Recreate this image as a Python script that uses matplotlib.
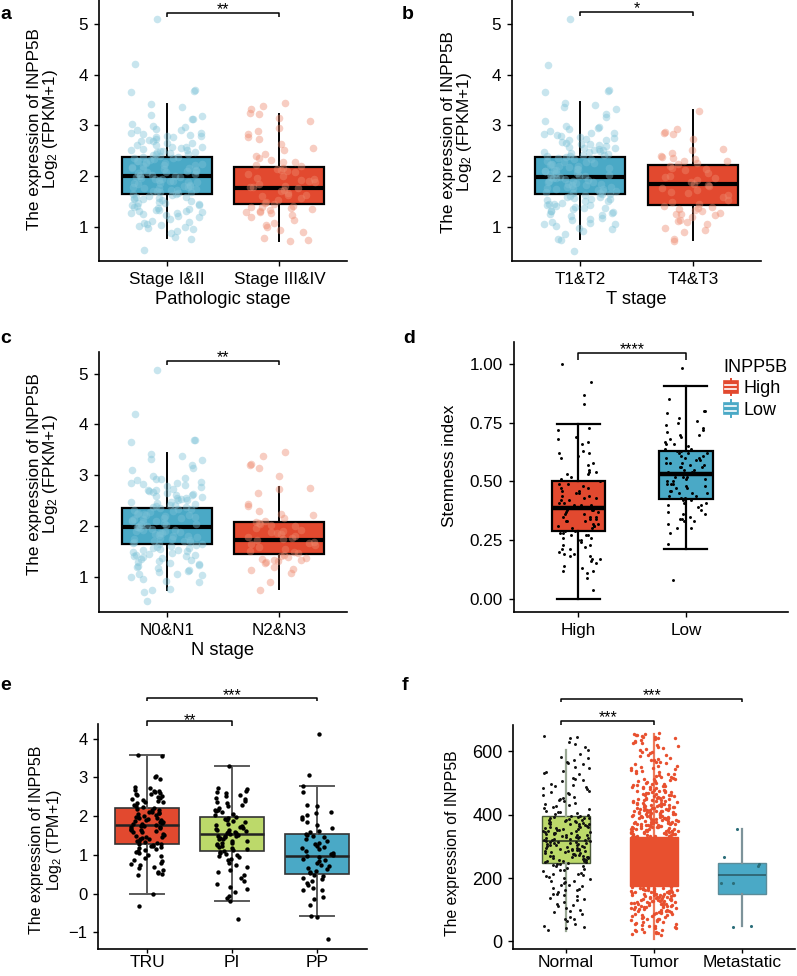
import numpy as np
import matplotlib
matplotlib.use("Agg")
import matplotlib.pyplot as plt
import matplotlib.transforms as mtransforms
from matplotlib.patches import Rectangle, Patch
from matplotlib.lines import Line2D
from matplotlib.legend_handler import HandlerBase

plt.rcParams["font.family"] = ["Liberation Sans", "DejaVu Sans"]
plt.rcParams["mathtext.default"] = "regular"

W, H = 797, 976

# ---- a: pathologic stage (FPKM) ----
a_labels = ["Stage I&II", "Stage III&IV"]
a_stage12 = [5.10, 4.21, 3.71, 3.69, 3.66, 3.43, 3.36, 3.21, 3.18, 3.13, 3.12, 3.03, 2.98, 2.97, 2.93,
             2.90, 2.86, 2.85, 2.84, 2.80, 2.79, 2.77, 2.73, 2.72, 2.70, 2.66, 2.65, 2.61, 2.58, 2.57,
             2.55, 2.52, 2.51, 2.48, 2.47, 2.46, 2.43, 2.41, 2.40, 2.38, 2.36, 2.35, 2.32, 2.30, 2.29,
             2.27, 2.25, 2.22, 2.21, 2.20, 2.17, 2.15, 2.14, 2.13, 2.10, 2.08, 2.07, 2.05, 2.03, 2.02,
             2.00, 1.99, 1.98, 1.95, 1.94, 1.93, 1.90, 1.88, 1.87, 1.86, 1.83, 1.81, 1.80, 1.78, 1.76,
             1.75, 1.73, 1.71, 1.70, 1.68, 1.66, 1.64, 1.63, 1.60, 1.58, 1.57, 1.55, 1.52, 1.50, 1.48,
             1.47, 1.44, 1.42, 1.40, 1.37, 1.35, 1.33, 1.30, 1.29, 1.27, 1.25, 1.22, 1.18, 1.15, 1.12,
             1.08, 1.05, 1.03, 1.00, 0.97, 0.95, 0.92, 0.88, 0.80, 0.76, 0.53,
             2.91, 2.78, 2.69, 2.62, 2.54, 2.49, 2.44, 2.33, 2.24, 2.16, 2.09, 2.04, 1.96, 1.91, 1.84,
             1.79, 1.72, 1.65, 1.59, 1.54, 1.46, 1.38, 1.31, 1.26, 1.20, 1.10, 1.02, 2.58, 2.37, 2.12,
             1.89, 1.69, 1.43, 1.33, 2.82, 2.50, 2.26, 2.01, 1.77, 1.56]
a_stage34 = [3.44, 3.38, 3.33, 3.24, 3.22, 3.15, 3.08, 2.95, 2.89, 2.83, 2.77, 2.74, 2.64, 2.55, 2.52,
             2.44, 2.40, 2.36, 2.31, 2.28, 2.22, 2.20, 2.16, 2.14, 2.11, 2.07, 2.04, 2.00, 1.97, 1.94,
             1.91, 1.88, 1.85, 1.81, 1.78, 1.76, 1.73, 1.70, 1.67, 1.63, 1.60, 1.56, 1.52, 1.49, 1.46,
             1.44, 1.41, 1.38, 1.36, 1.33, 1.31, 1.28, 1.26, 1.23, 1.18, 1.13, 1.08, 1.03, 0.99, 0.94,
             0.90, 0.77, 0.73, 0.71, 2.27, 2.09, 1.93, 1.79, 1.62, 1.39, 1.29, 1.35]
# box stats: q1, median, q3, lower whisker, upper whisker
a_box12 = [1.65, 2.01, 2.38, 0.77, 3.42]
a_box34 = [1.45, 1.76, 2.17, 0.72, 3.22]

# ---- b: T stage ----
b_labels = ["T1&T2", "T4&T3"]
b_t12 = [5.10, 4.20, 3.70, 3.68, 3.67, 3.44, 3.41, 3.36, 3.33, 3.22, 3.16, 3.09, 2.99, 2.96, 2.92,
         2.89, 2.85, 2.83, 2.81, 2.78, 2.75, 2.74, 2.71, 2.68, 2.66, 2.63, 2.60, 2.58, 2.56, 2.53,
         2.51, 2.49, 2.47, 2.45, 2.43, 2.41, 2.39, 2.37, 2.34, 2.33, 2.30, 2.28, 2.27, 2.24, 2.22,
         2.20, 2.19, 2.16, 2.14, 2.12, 2.10, 2.09, 2.06, 2.05, 2.03, 2.01, 1.99, 1.98, 1.96, 1.94,
         1.92, 1.91, 1.89, 1.87, 1.85, 1.83, 1.82, 1.79, 1.77, 1.76, 1.74, 1.72, 1.70, 1.68, 1.66,
         1.65, 1.63, 1.61, 1.59, 1.57, 1.54, 1.52, 1.50, 1.47, 1.45, 1.43, 1.41, 1.38, 1.36, 1.34,
         1.31, 1.29, 1.26, 1.24, 1.20, 1.17, 1.13, 1.10, 1.06, 1.05, 1.02, 0.98, 0.95, 0.91, 0.86,
         0.75, 0.74, 0.52,
         2.94, 2.80, 2.72, 2.64, 2.55, 2.48, 2.42, 2.35, 2.25, 2.18, 2.11, 2.04, 1.97, 1.90, 1.84,
         1.78, 1.71, 1.64, 1.58, 1.51, 1.44, 1.37, 1.30, 1.22, 1.15, 1.08, 2.61, 2.39, 2.13, 1.88,
         1.67, 1.42, 2.86, 2.52, 2.23, 2.00, 1.75, 1.55]
b_t34 = [3.29, 2.93, 2.88, 2.86, 2.84, 2.74, 2.53, 2.51, 2.46, 2.40, 2.38, 2.36, 2.33, 2.29, 2.25,
         2.23, 2.20, 2.16, 2.11, 2.06, 2.01, 1.96, 1.93, 1.89, 1.85, 1.81, 1.77, 1.73, 1.69, 1.63,
         1.59, 1.53, 1.48, 1.44, 1.41, 1.38, 1.36, 1.33, 1.30, 1.27, 1.25, 1.22, 1.19, 1.14, 1.12,
         1.09, 1.05, 0.97, 0.93, 0.90, 0.75, 0.72, 2.30, 2.13, 1.98, 1.83, 1.66, 1.34, 1.24]
b_box12 = [1.65, 1.98, 2.38, 0.76, 3.46]
b_box34 = [1.43, 1.84, 2.22, 0.74, 3.30]

# ---- c: N stage ----
c_labels = ["N0&N1", "N2&N3"]
c_n01 = [5.08, 4.21, 3.70, 3.69, 3.66, 3.42, 3.38, 3.31, 3.29, 3.20, 3.15, 3.10, 2.98, 2.95, 2.93,
         2.90, 2.87, 2.84, 2.82, 2.79, 2.76, 2.73, 2.71, 2.69, 2.66, 2.64, 2.61, 2.59, 2.57, 2.55,
         2.52, 2.50, 2.48, 2.46, 2.44, 2.42, 2.40, 2.37, 2.35, 2.33, 2.31, 2.29, 2.27, 2.25, 2.23,
         2.21, 2.19, 2.17, 2.15, 2.13, 2.11, 2.09, 2.07, 2.05, 2.03, 2.01, 2.00, 1.98, 1.96, 1.94,
         1.92, 1.90, 1.88, 1.86, 1.84, 1.82, 1.80, 1.78, 1.76, 1.74, 1.72, 1.70, 1.68, 1.66, 1.65,
         1.63, 1.61, 1.58, 1.56, 1.54, 1.52, 1.49, 1.47, 1.45, 1.42, 1.40, 1.38, 1.36, 1.33, 1.30,
         1.28, 1.25, 1.22, 1.19, 1.16, 1.12, 1.09, 1.05, 1.03, 1.00, 0.96, 0.92, 0.90, 0.76, 0.74,
         0.70, 0.52,
         2.92, 2.81, 2.70, 2.62, 2.54, 2.47, 2.41, 2.34, 2.24, 2.16, 2.10, 2.04, 1.97, 1.91, 1.85,
         1.79, 1.71, 1.64, 1.57, 1.50, 1.43, 1.35, 1.27, 1.20, 1.11, 1.04, 2.60, 2.38, 2.14, 1.89,
         1.68, 1.41, 2.85, 2.51, 2.22, 1.99, 1.75, 1.53]
c_n23 = [3.45, 3.38, 3.22, 3.21, 3.15, 2.98, 2.74, 2.73, 2.64, 2.44, 2.40, 2.29, 2.24, 2.21, 2.16,
         2.10, 2.08, 2.05, 2.02, 1.99, 1.96, 1.92, 1.89, 1.86, 1.83, 1.80, 1.77, 1.74, 1.72, 1.69,
         1.66, 1.62, 1.58, 1.54, 1.50, 1.46, 1.43, 1.41, 1.38, 1.36, 1.34, 1.32, 1.30, 1.28, 1.26,
         1.18, 1.15, 1.13, 1.06, 0.90, 0.73, 2.03, 1.88, 1.76, 1.64, 1.48, 1.33]
c_box01 = [1.64, 1.98, 2.36, 0.74, 3.43]
c_box23 = [1.44, 1.72, 2.07, 0.75, 2.76]

# ---- d: stemness index ----
d_labels = ["High", "Low"]
d_high = [1.00, 0.925, 0.87, 0.83, 0.73, 0.72, 0.69, 0.68, 0.67, 0.66, 0.63, 0.62, 0.62, 0.61, 0.60,
          0.58, 0.57, 0.55, 0.54, 0.53, 0.53, 0.52, 0.51, 0.50, 0.49, 0.49, 0.48, 0.47, 0.47, 0.46,
          0.45, 0.45, 0.44, 0.44, 0.43, 0.42, 0.42, 0.41, 0.41, 0.40, 0.40, 0.39, 0.39, 0.38, 0.38,
          0.37, 0.37, 0.36, 0.36, 0.35, 0.35, 0.34, 0.34, 0.33, 0.33, 0.33, 0.32, 0.32, 0.31, 0.31,
          0.30, 0.30, 0.29, 0.29, 0.28, 0.28, 0.27, 0.27, 0.26, 0.26, 0.25, 0.25, 0.24, 0.23, 0.23,
          0.22, 0.21, 0.21, 0.20, 0.19, 0.19, 0.18, 0.18, 0.17, 0.17, 0.16, 0.15, 0.14, 0.13, 0.12,
          0.12, 0.11, 0.09, 0.035, 0.46, 0.40, 0.35, 0.31, 0.27, 0.54, 0.43, 0.38]
d_low = [0.985, 0.85, 0.80, 0.80, 0.79, 0.77, 0.76, 0.75, 0.74, 0.73, 0.72, 0.71, 0.70, 0.70, 0.69,
         0.68, 0.67, 0.66, 0.66, 0.65, 0.64, 0.64, 0.63, 0.63, 0.62, 0.62, 0.61, 0.61, 0.60, 0.60,
         0.59, 0.59, 0.58, 0.58, 0.57, 0.57, 0.56, 0.56, 0.55, 0.55, 0.54, 0.54, 0.53, 0.53, 0.53,
         0.52, 0.52, 0.51, 0.51, 0.50, 0.50, 0.49, 0.49, 0.48, 0.48, 0.47, 0.47, 0.46, 0.46, 0.45,
         0.45, 0.44, 0.44, 0.43, 0.43, 0.42, 0.42, 0.41, 0.41, 0.40, 0.40, 0.39, 0.38, 0.37, 0.36,
         0.36, 0.35, 0.34, 0.34, 0.33, 0.33, 0.32, 0.30, 0.30, 0.28, 0.235, 0.08, 0.60, 0.56, 0.52,
         0.49, 0.45, 0.62, 0.58]
d_box_high = [0.29, 0.388, 0.502, 0.0, 0.744]
d_box_low = [0.425, 0.531, 0.632, 0.212, 0.909]

# ---- e: TPM by subtype ----
e_labels = ["TRU", "PI", "PP"]
e_tru = [3.58, 3.56, 3.05, 3.01, 2.97, 2.75, 2.72, 2.68, 2.66, 2.64, 2.62, 2.60, 2.58, 2.56, 2.55,
         2.52, 2.50, 2.48, 2.45, 2.42, 2.40, 2.37, 2.33, 2.30, 2.27, 2.24, 2.21, 2.19, 2.17, 2.15,
         2.12, 2.10, 2.08, 2.05, 2.03, 2.01, 1.99, 1.97, 1.95, 1.93, 1.91, 1.89, 1.87, 1.85, 1.83,
         1.81, 1.79, 1.77, 1.75, 1.73, 1.71, 1.69, 1.67, 1.65, 1.62, 1.60, 1.58, 1.55, 1.52, 1.50,
         1.47, 1.45, 1.42, 1.40, 1.37, 1.35, 1.33, 1.31, 1.29, 1.28, 1.26, 1.24, 1.22, 1.20, 1.17,
         1.15, 1.12, 1.10, 1.07, 1.04, 1.00, 0.96, 0.92, 0.88, 0.84, 0.80, 0.76, 0.73, 0.68, 0.65,
         0.60, 0.57, 0.53, 0.50, 0.48, 0.00, -0.32, 2.36, 2.09, 1.86, 1.64, 1.43, 1.96, 1.74]
e_pi = [3.29, 2.73, 2.70, 2.65, 2.63, 2.60, 2.55, 2.52, 2.48, 2.45, 2.40, 2.37, 2.33, 2.30, 2.25,
        2.20, 2.17, 2.14, 2.10, 2.05, 2.02, 1.99, 1.96, 1.93, 1.90, 1.87, 1.84, 1.81, 1.78, 1.75,
        1.72, 1.70, 1.67, 1.65, 1.62, 1.60, 1.58, 1.56, 1.54, 1.52, 1.50, 1.48, 1.46, 1.44, 1.42,
        1.40, 1.37, 1.35, 1.32, 1.30, 1.27, 1.25, 1.22, 1.19, 1.16, 1.13, 1.11, 1.08, 1.05, 1.02,
        1.00, 0.97, 0.94, 0.90, 0.86, 0.80, 0.75, 0.68, 0.62, 0.55, 0.47, 0.40, 0.33, 0.25, 0.18,
        0.12, 0.05, -0.05, -0.12, -0.18, -0.65, 1.63, 1.57, 1.49, 1.21, 2.15]
e_pp = [4.13, 3.06, 2.77, 2.62, 2.30, 2.25, 2.12, 2.08, 2.02, 1.98, 1.93, 1.85, 1.78, 1.70, 1.62,
        1.58, 1.55, 1.52, 1.48, 1.45, 1.40, 1.36, 1.32, 1.28, 1.24, 1.20, 1.17, 1.14, 1.10, 1.06,
        1.03, 1.00, 0.97, 0.94, 0.90, 0.87, 0.83, 0.79, 0.75, 0.71, 0.67, 0.63, 0.59, 0.55, 0.52,
        0.49, 0.45, 0.41, 0.37, 0.32, 0.28, 0.22, 0.15, 0.10, 0.10, -0.10, -0.15, -0.30, -0.59,
        -0.60, -1.17]
e_box = [[1.27, 1.78, 2.21, 0.0, 3.57],
         [1.10, 1.53, 1.98, -0.18, 3.29],
         [0.505, 0.96, 1.53, -0.59, 2.78]]

# ---- f: normal / tumor / metastatic ----
f_labels = ["Normal", "Tumor", "Metastatic"]
f_normal = [649, 646, 642, 630, 623, 603, 583, 578, 571, 566, 562, 551, 547, 539, 531, 528, 517, 511,
            508, 497, 494, 489, 483, 480, 476, 470, 468, 461, 457, 452, 448, 443, 436, 433, 430, 424,
            421, 417, 412, 409, 404, 401, 398, 396, 394, 391, 390, 387, 384, 383, 380, 377, 375, 373,
            371, 369, 366, 364, 361, 360, 357, 355, 352, 350, 348, 346, 343, 342, 339, 337, 335, 333,
            331, 328, 327, 324, 322, 320, 318, 317, 315, 313, 311, 309, 306, 305, 302, 300, 298, 296,
            293, 291, 289, 287, 285, 282, 280, 278, 276, 273, 271, 269, 267, 264, 262, 260, 257, 255,
            253, 250, 247, 244, 240, 237, 233, 228, 224, 221, 217, 213, 209, 205, 201, 196, 192, 188,
            183, 179, 175, 170, 165, 161, 156, 151, 147, 142, 136, 130, 124, 119, 112, 106, 99, 93,
            86, 78, 70, 63, 56, 49, 42, 35,
            612, 590, 559, 535, 505, 486, 465, 445, 427, 408, 395, 389, 382, 376, 370, 365, 358, 353,
            347, 341, 336, 330, 325, 319, 314, 310, 304, 299, 295, 290, 286, 281, 275, 270, 265, 259,
            254, 251, 245, 238, 226, 214, 203, 190, 177, 163, 150, 133, 115, 96, 72, 45, 392, 371,
            356, 338, 321, 303, 284, 266, 379, 362, 344, 326, 308, 292, 274, 258]
f_tumor = [657, 655, 652, 650, 648, 645, 643, 639, 636, 633, 629, 625, 621, 617, 612, 608, 603, 598,
           594, 589, 585, 580, 576, 571, 567, 563, 559, 555, 551, 548, 544, 541, 537, 534, 531, 527,
           524, 521, 518, 515, 512, 509, 507, 504, 501, 498, 496, 493, 491, 488, 486, 483, 481, 479,
           476, 474, 472, 469, 467, 465, 463, 461, 459, 457, 455, 453, 451, 449, 447, 445, 443, 441,
           439, 437, 436, 434, 432, 430, 428, 427, 425, 423, 421, 420, 418, 416, 415, 413, 411, 410,
           408, 407, 405, 403, 402, 400, 399, 397, 396, 394, 393, 391, 390, 388, 387, 385, 384, 382,
           381, 380, 378, 377, 375, 374, 373, 371, 370, 368, 367, 366, 364, 363, 362, 360, 359, 358,
           356, 355, 354, 352, 351, 350, 348, 347, 346, 344, 343, 342, 341, 339, 338, 337, 335, 334,
           333, 332, 330,
           654, 646, 641, 627, 611, 597, 588, 574, 565, 553, 546, 539, 529, 520, 514, 506, 499, 494,
           489, 484, 478, 475, 470, 466, 462, 458, 454, 450, 446, 442, 438, 435, 431, 429, 426, 422,
           419, 417, 414, 412, 409, 406, 404, 401, 398, 395, 392, 389, 386, 383, 381, 379, 376, 372,
           369, 365, 361, 357, 353, 349, 345, 340, 336, 331, 512, 486, 471, 452, 444, 433, 424, 414,
           402, 392, 383, 374, 365, 356, 347, 338, 397, 376, 361, 349, 339, 333, 420, 409, 388, 371,
           173, 172, 171, 169, 168, 167, 165, 164, 163, 161, 160, 159, 157, 156, 155, 153, 152, 151,
           149, 148, 146, 145, 144, 142, 141, 139, 138, 136, 135, 133, 132, 130, 129, 127, 126, 124,
           122, 121, 119, 117, 116, 114, 112, 110, 109, 107, 105, 103, 101, 99, 97, 95, 93, 91, 89,
           87, 84, 82, 80, 77, 75, 72, 70, 67, 64, 61, 58, 55, 52, 49, 46, 43, 40, 36, 33, 30, 27,
           24, 21,
           170, 166, 162, 158, 154, 150, 147, 143, 140, 137, 134, 131, 128, 125, 123, 120, 118, 115,
           111, 108, 104, 100, 96, 92, 88, 85, 81, 76, 71, 66, 60, 54, 48, 41, 35, 29, 25, 170, 162,
           155, 147, 139, 131, 122, 113, 103, 94]
f_metastatic = [356, 265, 243, 239, 185, 183, 50, 47]
f_box = [[249, 316, 397, 34, 603],
         [174, 250, 328, 8, 655],
         [150, 210, 248, 48, 354]]

BLUE = "#4AA9C6"
RED = "#E2492F"
LIGHT_BLUE = "#7EC3D8"
LIGHT_RED = "#EE8A6E"
GREEN = "#BCD96A"
TUMOR = "#E8502F"


def px_axes(fig, l, r, t, b):
    return fig.add_axes([l / W, 1 - b / H, (r - l) / W, (b - t) / H])


def jitter(n, width, phase=0.37):
    # deterministic spread of points across the box width
    k = np.arange(n)
    u = (k * 0.6180339887 + k * k * 0.0731 + phase) % 1.0
    return (u - 0.5) * 2 * width


def to_stats(rows):
    return [dict(q1=r[0], med=r[1], q3=r[2], whislo=r[3], whishi=r[4], fliers=[]) for r in rows]


def style(ax, fs=12.3, pad=4.5):
    for s in ["top", "right"]:
        ax.spines[s].set_visible(False)
    for s in ["left", "bottom"]:
        ax.spines[s].set_linewidth(1.2)
    ax.tick_params(length=3.5, width=1.0, labelsize=fs, pad=pad)


def bracket(ax, x1, x2, y, drop, label, dy=-1.0, fs=11.5):
    ax.plot([x1, x1, x2, x2], [y - drop, y, y, y - drop], color="black", lw=1.1,
            clip_on=False, solid_capstyle="butt")
    tr = mtransforms.offset_copy(ax.transData, fig=ax.figure, y=dy, units="points")
    ax.text((x1 + x2) / 2, y, label, ha="center", va="baseline", fontsize=fs,
            transform=tr, clip_on=False)


def ylab(fig, x, y, text, fs=12.3):
    fig.text(x / W, 1 - y / H, text, rotation=90, ha="center", va="center", fontsize=fs)


def letter(fig, x, y, s):
    fig.text(x / W, 1 - y / H, s, fontsize=14, fontweight="bold", ha="left", va="baseline")


def stage_panel(ax, groups, boxes, labels, ylim, xlabel, star, by, bdrop):
    res = ax.bxp(to_stats(boxes), positions=[1, 2], widths=0.8, patch_artist=True,
                 showfliers=False, showcaps=False, zorder=2,
                 boxprops=dict(edgecolor="black", linewidth=1.6),
                 medianprops=dict(color="black", linewidth=3.0),
                 whiskerprops=dict(color="black", linewidth=1.4))
    for patch, c in zip(res["boxes"], [BLUE, RED]):
        patch.set_facecolor(c)
    for i, (vals, c) in enumerate(zip(groups, [LIGHT_BLUE, LIGHT_RED])):
        vals = np.asarray(vals)
        ax.scatter(i + 1 + jitter(len(vals), 0.32, 0.37 + 0.21 * i), vals, s=30, color=c,
                   alpha=0.42, linewidths=0, zorder=3)
    ax.set_xlim(0.4, 2.6)
    ax.set_ylim(*ylim)
    ax.set_yticks([1, 2, 3, 4, 5])
    ax.set_xticks([1, 2])
    ax.set_xticklabels(labels)
    ax.set_xlabel(xlabel, fontsize=13.2, labelpad=3)
    style(ax)
    bracket(ax, 1, 2, by, bdrop, star)


fig = plt.figure(figsize=(W / 100, H / 100), dpi=100)

# a
ax_a = px_axes(fig, 99, 347, 0, 261)
stage_panel(ax_a, [a_stage12, a_stage34], [a_box12, a_box34], a_labels, (0.32, 5.48),
            "Pathologic stage", "**", 5.23, 0.08)
ylab(fig, 35, 129, "The expression of INPP5B")
ylab(fig, 51, 129, "Log$_2$ (FPKM+1)")
letter(fig, 0, 19, "a")

# b
ax_b = px_axes(fig, 512, 761, 0, 261)
stage_panel(ax_b, [b_t12, b_t34], [b_box12, b_box34], b_labels, (0.32, 5.48),
            "T stage", "*", 5.24, 0.08)
ylab(fig, 448, 132, "The expression of INPP5B")
ylab(fig, 464, 132, "Log$_2$ (FPKM+1)")
letter(fig, 402, 19, "b")

# c
ax_c = px_axes(fig, 99, 347, 352, 612)
stage_panel(ax_c, [c_n01, c_n23], [c_box01, c_box23], c_labels, (0.30, 5.43),
            "N stage", "**", 5.25, 0.08)
ylab(fig, 35, 474, "The expression of INPP5B")
ylab(fig, 51, 474, "Log$_2$ (FPKM+1)")
letter(fig, 0, 343, "c")

# d
ax_d = px_axes(fig, 514, 788, 342, 612)
res = ax_d.bxp(to_stats([d_box_high, d_box_low]), positions=[1, 2], widths=0.5,
               patch_artist=True, showfliers=False, showcaps=True, capwidths=0.4, zorder=2,
               boxprops=dict(edgecolor="black", linewidth=1.6),
               medianprops=dict(color="black", linewidth=3.2),
               whiskerprops=dict(color="black", linewidth=1.6),
               capprops=dict(color="black", linewidth=1.6))
for patch, c in zip(res["boxes"], [RED, BLUE]):
    patch.set_facecolor(c)
for i, vals in enumerate([d_high, d_low]):
    vals = np.asarray(vals)
    ax_d.scatter(i + 1 + jitter(len(vals), 0.2, 0.11 + 0.3 * i), vals, s=4.5, color="black",
                 linewidths=0, zorder=3)
ax_d.set_xlim(0.4, 2.95)
ax_d.set_ylim(-0.057, 1.095)
ax_d.set_yticks([0, 0.25, 0.5, 0.75, 1.0])
ax_d.set_yticklabels(["0.00", "0.25", "0.50", "0.75", "1.00"])
ax_d.set_xticks([1, 2])
ax_d.set_xticklabels(d_labels)
style(ax_d)
bracket(ax_d, 1, 2, 1.05, 0.032, "****")
ylab(fig, 450, 466, "Stemness index")
letter(fig, 403, 343, "d")


class BoxKey(HandlerBase):
    def create_artists(self, legend, orig, xd, yd, w, h, fontsize, trans):
        c = orig.get_facecolor()
        x0, y0 = -xd + 0.05 * w, -yd + 0.12 * h
        bw, bh = 0.9 * w, 0.76 * h
        cx = x0 + bw / 2
        arts = [Rectangle((x0, y0), bw, bh, fc=c, ec=c, lw=1.2, transform=trans),
                Line2D([cx, cx], [y0 + bh, -yd + h * 1.05], color=c, lw=1.4, transform=trans),
                Line2D([cx, cx], [-yd - h * 0.05, y0], color=c, lw=1.4, transform=trans)]
        for f in (0.3, 0.7):
            arts.append(Line2D([x0 + 0.12 * bw, x0 + 0.88 * bw], [y0 + f * bh] * 2,
                               color="white", lw=1.2, transform=trans))
        return arts


ax_d.legend(handles=[Patch(facecolor=RED), Patch(facecolor=BLUE)], labels=d_labels,
            title="INPP5B", handler_map={Patch: BoxKey()}, loc="upper left",
            bbox_to_anchor=(723 / W, 1 - 359 / H), bbox_transform=fig.transFigure,
            frameon=False, fontsize=13, title_fontsize=13, handlelength=0.85,
            handleheight=0.9, handletextpad=0.3, labelspacing=0.2, borderpad=0,
            borderaxespad=0, alignment="left")

# e
ax_e = px_axes(fig, 98, 367, 724, 949)
res = ax_e.bxp(to_stats(e_box), positions=[1, 2, 3], widths=0.76, patch_artist=True,
               showfliers=False, showcaps=True, capwidths=0.4, zorder=2,
               boxprops=dict(edgecolor="#333333", linewidth=1.2),
               medianprops=dict(color="#222222", linewidth=1.8),
               whiskerprops=dict(color="#5a5a5a", linewidth=1.4),
               capprops=dict(color="#5a5a5a", linewidth=1.4))
for patch, c in zip(res["boxes"], [RED, GREEN, BLUE]):
    patch.set_facecolor(c)
for i, vals in enumerate([e_tru, e_pi, e_pp]):
    vals = np.asarray(vals)
    ax_e.scatter(i + 1 + jitter(len(vals), 0.2, 0.23 + 0.17 * i), vals, s=10, color="black",
                 linewidths=0, zorder=3)
ax_e.set_xlim(0.42, 3.59)
ax_e.set_ylim(-1.43, 4.38)
ax_e.set_yticks([-1, 0, 1, 2, 3, 4])
ax_e.set_xticks([1, 2, 3])
ax_e.set_xticklabels(e_labels)
style(ax_e, 12, 4)
ax_e.tick_params(axis="x", labelsize=12.5, length=3, pad=1.5)
bracket(ax_e, 1, 2, 4.46, 0.13, "**", dy=-3)
bracket(ax_e, 1, 3, 5.04, 0.07, "***", dy=-1)
ylab(fig, 37, 840, "The expression of INPP5B", 11.5)
ylab(fig, 54, 840, "Log$_2$ (TPM+1)", 11.5)
letter(fig, 0, 690, "e")

# f
ax_f = px_axes(fig, 513, 795, 725, 949)
vals = np.asarray(f_normal)
ax_f.scatter(1 + jitter(len(vals), 0.27, 0.05), vals, s=4.5, color="#111111", linewidths=0,
             zorder=3)
vals = np.asarray(f_tumor)
ax_f.scatter(2 + jitter(len(vals), 0.27, 0.61), vals, s=6, color=TUMOR, linewidths=0, zorder=3)
vals = np.asarray(f_metastatic)
ax_f.scatter(3 + jitter(len(vals), 0.24), vals, s=5, color="#2C6E7A", linewidths=0, zorder=3)
res = ax_f.bxp(to_stats(f_box), positions=[1, 2, 3], widths=0.55, patch_artist=True,
               showfliers=False, showcaps=False, zorder=2,
               boxprops=dict(linewidth=1.0), medianprops=dict(linewidth=1.2),
               whiskerprops=dict(linewidth=1.6))
box_face = [GREEN, TUMOR, BLUE]
box_edge = ["#4a5a3a", TUMOR, "#5b8c99"]
whisk = ["#9aa894", "#EE7A5A", "#7d939a"]
med = ["#2f3a22", TUMOR, "#2d5f6b"]
for i in range(3):
    res["boxes"][i].set(facecolor=box_face[i], edgecolor=box_edge[i])
    res["medians"][i].set_color(med[i])
    for w in res["whiskers"][2 * i:2 * i + 2]:
        w.set_color(whisk[i])
res["boxes"][1].set_zorder(4)
res["medians"][1].set_visible(False)
ax_f.set_xlim(0.4, 3.6)
ax_f.set_ylim(-24, 683)
ax_f.set_yticks([0, 200, 400, 600])
ax_f.set_xticks([1, 2, 3])
ax_f.set_xticklabels(f_labels)
style(ax_f, 13, 4)
ax_f.tick_params(axis="x", labelsize=12.5, length=3, pad=1.5)
bracket(ax_f, 0.95, 2, 696, 13, "***")
bracket(ax_f, 0.95, 3, 766, 10, "***")
ylab(fig, 453, 843, "The expression of INPP5B", 11.3)
letter(fig, 402, 690, "f")

fig.savefig("out.png", dpi=100)
